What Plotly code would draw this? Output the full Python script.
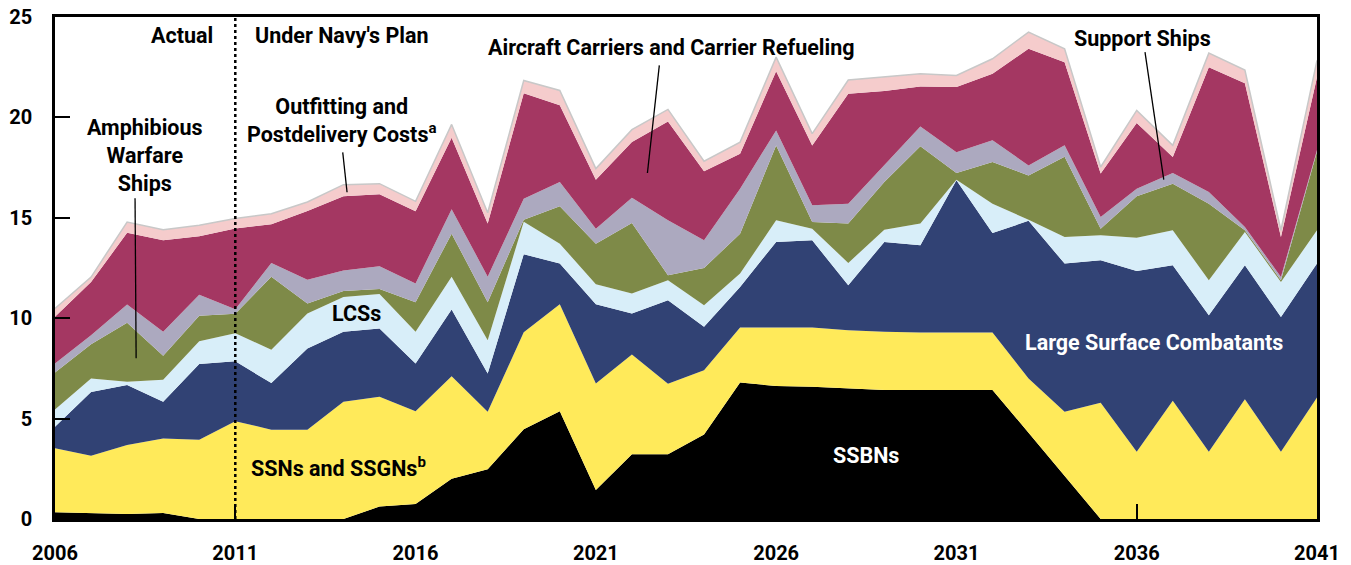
import plotly.graph_objects as go

years = list(range(2006, 2042))

# Annual costs by ship type, stacked from the bottom up (billions of dollars)
ssbns = [0.33, 0.3, 0.25, 0.3, 0.0, 0.0, 0.0, 0.0, 0.0, 0.62, 0.75, 2.0,
         2.48, 4.47, 5.37, 1.44, 3.22, 3.22, 4.21, 6.8, 6.62, 6.58, 6.5, 6.42,
         6.42, 6.42, 6.42, 4.3, 2.15, 0.0, 0.0, 0.0, 0.0, 0.0, 0.0, 0.0]
ssns = [3.19, 2.85, 3.43, 3.71, 3.95, 4.87, 4.45, 4.45, 5.84, 5.47, 4.62, 5.11,
        2.86, 4.83, 5.33, 5.31, 4.97, 3.51, 3.2, 2.74, 2.92, 2.96, 2.9, 2.9,
        2.87, 2.87, 2.87, 2.7, 3.19, 5.79, 3.35, 5.89, 3.35, 5.96, 3.35, 6.05]
large_surface = [1.07, 3.18, 2.99, 1.83, 3.77, 2.98, 2.32, 4.04, 3.48, 3.4, 2.38, 3.32,
                 1.91, 3.88, 2.02, 3.95, 2.04, 4.17, 2.16, 2.02, 4.26, 4.34, 2.24, 4.48,
                 4.34, 7.58, 4.95, 7.85, 7.38, 7.1, 9.0, 6.75, 6.8, 6.68, 6.71, 6.67]
lcss = [0.86, 0.67, 0.16, 1.09, 1.13, 1.4, 1.66, 1.74, 1.73, 1.71, 1.57, 1.64,
        1.65, 1.62, 0.99, 0.99, 1.0, 0.99, 1.08, 0.66, 1.08, 0.58, 1.11, 0.61,
        1.08, 0.03, 1.46, 0.05, 1.33, 1.24, 1.66, 1.74, 1.74, 1.65, 1.74, 1.66]
amphibious = [1.85, 1.7, 2.94, 1.2, 1.27, 0.97, 3.64, 0.5, 0.3, 0.25, 1.48, 2.14,
              1.9, 0.1, 1.86, 2.02, 3.51, 0.25, 1.85, 1.99, 3.72, 0.33, 1.96, 2.37,
              3.85, 0.33, 2.08, 2.21, 3.99, 0.33, 2.06, 2.32, 3.81, 0.09, 0.09, 3.92]
support = [0.45, 0.45, 0.91, 1.19, 1.05, 0.23, 0.68, 1.19, 1.02, 1.14, 0.93, 1.22,
           1.27, 1.05, 1.21, 0.75, 1.26, 2.74, 1.38, 2.24, 0.75, 0.83, 0.99, 0.87,
           0.99, 1.04, 1.08, 0.5, 0.57, 0.58, 0.38, 0.53, 0.58, 0.16, 0.16, 0.08]
carriers = [2.32, 2.65, 3.57, 4.56, 2.91, 4.02, 1.93, 3.42, 3.7, 3.58, 3.59, 3.56,
            2.65, 5.25, 3.82, 2.44, 2.77, 4.92, 3.44, 1.74, 2.95, 2.98, 5.48, 3.66,
            1.99, 3.24, 3.31, 5.81, 4.14, 2.16, 3.27, 0.8, 6.22, 7.16, 2.0, 3.62]
outfitting = [0.41, 0.25, 0.54, 0.53, 0.55, 0.49, 0.52, 0.45, 0.58, 0.53, 0.5, 0.66,
              0.53, 0.64, 0.74, 0.55, 0.62, 0.6, 0.5, 0.58, 0.7, 0.59, 0.68, 0.69,
              0.63, 0.58, 0.75, 0.83, 0.67, 0.33, 0.63, 0.58, 0.7, 0.66, 0.33, 0.84]

layers = [
    ("SSBNs", ssbns, "#000000"),
    ("SSNs and SSGNs", ssns, "#FFEA5A"),
    ("Large Surface Combatants", large_surface, "#314274"),
    ("LCSs", lcss, "#D8EEF9"),
    ("Amphibious Warfare Ships", amphibious, "#7E8A48"),
    ("Support Ships", support, "#ACA9BF"),
    ("Aircraft Carriers and Carrier Refueling", carriers, "#A43762"),
    ("Outfitting and Postdelivery Costs", outfitting, "#F5CCCC"),
]

FONT = "Roboto"

fig = go.Figure()
for name, vals, color in layers:
    is_top = name.startswith("Outfitting")
    fig.add_trace(go.Scatter(
        x=years, y=vals, name=name, mode="lines", stackgroup="one",
        fillcolor=color,
        line=dict(color="#C8C8C8" if is_top else color, width=1.5 if is_top else 0),
        hovertemplate=name + " %{x}: %{y:.1f}<extra></extra>",
    ))

# Actual / plan divider
fig.add_shape(type="line", x0=2011, x1=2011, y0=0, y1=25, xref="x", yref="y",
              line=dict(color="black", width=2.5, dash="dot"))

# Leader lines for labels
leaders = [
    (2008.22, 15.97, 2008.25, 8.0),
    (2013.98, 18.26, 2014.1, 16.27),
    (2022.76, 22.59, 2022.43, 17.23),
    (2036.23, 23.25, 2036.75, 16.9),
]
for x0, y0, x1, y1 in leaders:
    fig.add_shape(type="line", x0=x0, y0=y0, x1=x1, y1=y1, xref="x", yref="y",
                  line=dict(color="black", width=1.3))

labels = [
    ("Actual", 2010.44, 24.08, "right", "black"),
    ("Under Navy's Plan", 2011.49, 24.08, "left", "black"),
    ("Amphibious<br>Warfare<br>Ships", 2008.5, 18.08, "center", "black"),
    ("Outfitting and<br>Postdelivery Costs<sup>a</sup>", 2013.96, 19.85, "center", "black"),
    ("Aircraft Carriers and Carrier Refueling", 2023.1, 23.48, "center", "black"),
    ("Support Ships", 2036.16, 23.93, "center", "black"),
    ("LCSs", 2014.37, 10.25, "center", "black"),
    ("Large Surface Combatants", 2036.48, 8.8, "center", "white"),
    ("SSNs and SSGNs<sup>b</sup>", 2013.85, 2.6, "center", "black"),
    ("SSBNs", 2028.48, 3.18, "center", "white"),
]
for text, x, y, anchor, color in labels:
    fig.add_annotation(text=text, x=x, y=y, xref="x", yref="y", xanchor=anchor,
                       yanchor="middle", showarrow=False,
                       font=dict(family=FONT, size=21.5, color=color, weight="bold"))

fig.update_layout(
    width=1351, height=565,
    margin=dict(l=55, r=34, t=17, b=46),
    plot_bgcolor="white", paper_bgcolor="white",
    showlegend=False,
    font=dict(family=FONT, size=20, color="black"),
)
fig.update_xaxes(
    range=[2006, 2041], tickvals=list(range(2006, 2042, 5)),
    ticks="inside", ticklen=15, tickwidth=1.5, tickcolor="black",
    showline=True, linecolor="black", linewidth=2.5, mirror=True,
    showgrid=False, zeroline=False, ticklabelstandoff=14, automargin=False,
    ticklabeloverflow="allow",
    tickfont=dict(family=FONT, size=20, color="black", weight="bold"),
)
fig.update_yaxes(
    range=[0, 25], dtick=5,
    ticks="inside", ticklen=15, tickwidth=1.5, tickcolor="black",
    showline=True, linecolor="black", linewidth=2.5, mirror=True,
    showgrid=False, zeroline=False, ticklabelstandoff=16, automargin=False,
    ticklabeloverflow="allow",
    tickfont=dict(family=FONT, size=20, color="black", weight="bold"),
)

# drop the default page margin so the figure sits at the window's corner
fig.write_html("out.html", config={"displayModeBar": False},
               post_script="document.body.style.margin = '0';")
